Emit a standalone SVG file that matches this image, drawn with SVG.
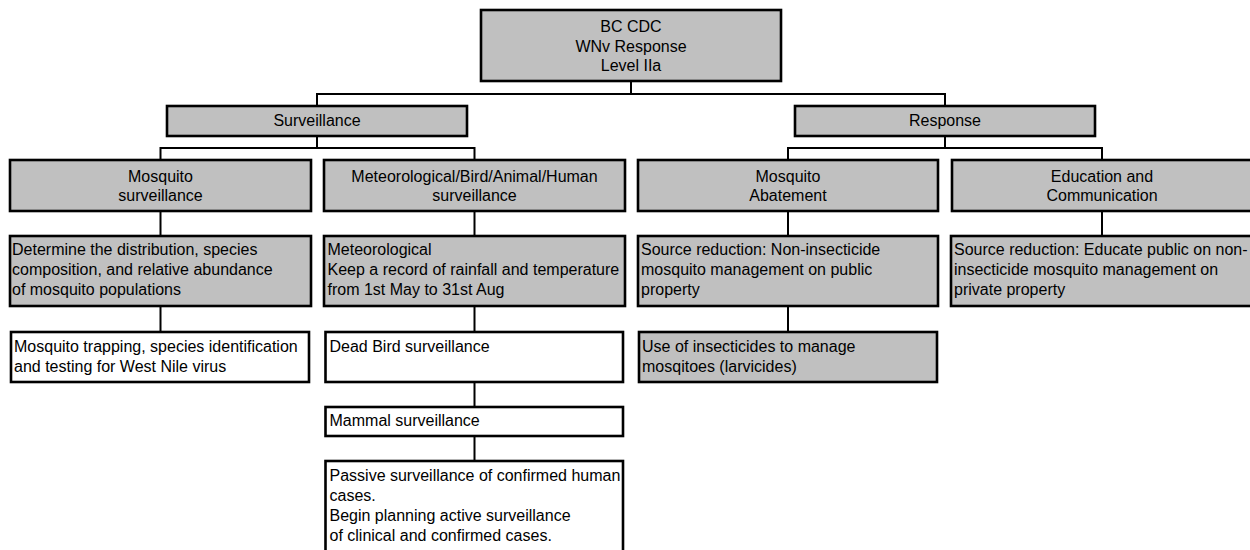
<svg xmlns="http://www.w3.org/2000/svg" width="1250" height="550" viewBox="0 0 1250 550">
<style>
.g{fill:#c0c0c0;stroke:#000;stroke-width:2.6}
.w{fill:#fff;stroke:#000;stroke-width:2.6}
.c{fill:none;stroke:#000;stroke-width:2}
text{font-family:"Liberation Sans",Arial,sans-serif;font-size:16px;fill:#000}
.m{text-anchor:middle}
</style>
<rect width="1250" height="550" fill="#fff"/>
<g id="connectors">
<path class="c" d="M631 82V94M317 105V94H945V105"/>
<path class="c" d="M317 137V148M160.5 159V148H474.5V159"/>
<path class="c" d="M945 137V148M788 159V148H1102V159"/>
<path class="c" d="M160.5 212V235M474.5 212V235M788 212V235M1102 212V235"/>
<path class="c" d="M160.5 307V331M474.5 307V331M788 307V331"/>
<path class="c" d="M474.5 383V406M474.5 437V460"/>
</g>
<g id="n-top"><rect class="g" x="481" y="10" width="300" height="71"/>
<text class="m" x="631" y="32">BC CDC</text><text class="m" x="631" y="51.5">WNv Response</text><text class="m" x="631" y="71">Level IIa</text></g>
<g id="n-surveillance"><rect class="g" x="167" y="106" width="300" height="30"/><text class="m" x="317" y="126">Surveillance</text></g>
<g id="n-response"><rect class="g" x="795" y="106" width="300" height="30"/><text class="m" x="945" y="126">Response</text></g>
<g id="n-mosq-surv"><rect class="g" x="10" y="160" width="301" height="51"/><text class="m" x="160.5" y="181.5">Mosquito</text><text class="m" x="160.5" y="201">surveillance</text></g>
<g id="n-met-surv"><rect class="g" x="324" y="160" width="301" height="51"/><text class="m" x="474.5" y="181.5">Meteorological/Bird/Animal/Human</text><text class="m" x="474.5" y="201">surveillance</text></g>
<g id="n-abatement"><rect class="g" x="638" y="160" width="300" height="51"/><text class="m" x="788" y="181.5">Mosquito</text><text class="m" x="788" y="201">Abatement</text></g>
<g id="n-education"><rect class="g" x="952" y="160" width="300" height="51"/><text class="m" x="1102" y="181.5">Education and</text><text class="m" x="1102" y="201">Communication</text></g>
<g id="n-determine"><rect class="g" x="10" y="236" width="301" height="70"/>
<text x="12" y="255">Determine the distribution, species</text><text x="12" y="275">composition, and relative abundance</text><text x="12" y="295">of mosquito populations</text></g>
<g id="n-meteorological"><rect class="g" x="324" y="236" width="301" height="70"/>
<text x="327.5" y="255">Meteorological</text><text x="327.5" y="275">Keep a record of rainfall and temperature</text><text x="327.5" y="295">from 1st May to 31st Aug</text></g>
<g id="n-source-public"><rect class="g" x="638" y="236" width="300" height="70"/>
<text x="641" y="255">Source reduction: Non-insecticide</text><text x="641" y="275">mosquito management on public</text><text x="641" y="295">property</text></g>
<g id="n-source-private"><rect class="g" x="951" y="236" width="302" height="70"/>
<text x="954" y="255">Source reduction: Educate public on non-</text><text x="954" y="275">insecticide mosquito management on</text><text x="954" y="295">private property</text></g>
<g id="n-trapping"><rect class="w" x="11" y="332" width="298" height="50"/>
<text x="14" y="352">Mosquito trapping, species identification</text><text x="14" y="372">and testing for West Nile virus</text></g>
<g id="n-deadbird"><rect class="w" x="325.5" y="332" width="297.5" height="50"/><text x="329.5" y="352">Dead Bird surveillance</text></g>
<g id="n-insecticide"><rect class="g" x="639" y="332" width="298" height="50"/>
<text x="642" y="352">Use of insecticides to manage</text><text x="642" y="372">mosqitoes (larvicides)</text></g>
<g id="n-mammal"><rect class="w" x="325.5" y="407" width="297.5" height="29"/><text x="329.5" y="426">Mammal surveillance</text></g>
<g id="n-human"><rect class="w" x="325.5" y="461" width="297.5" height="100"/>
<text x="329.5" y="481">Passive surveillance of confirmed human</text><text x="329.5" y="501">cases.</text><text x="329.5" y="521">Begin planning active surveillance</text><text x="329.5" y="541">of clinical and confirmed cases.</text></g>
</svg>
